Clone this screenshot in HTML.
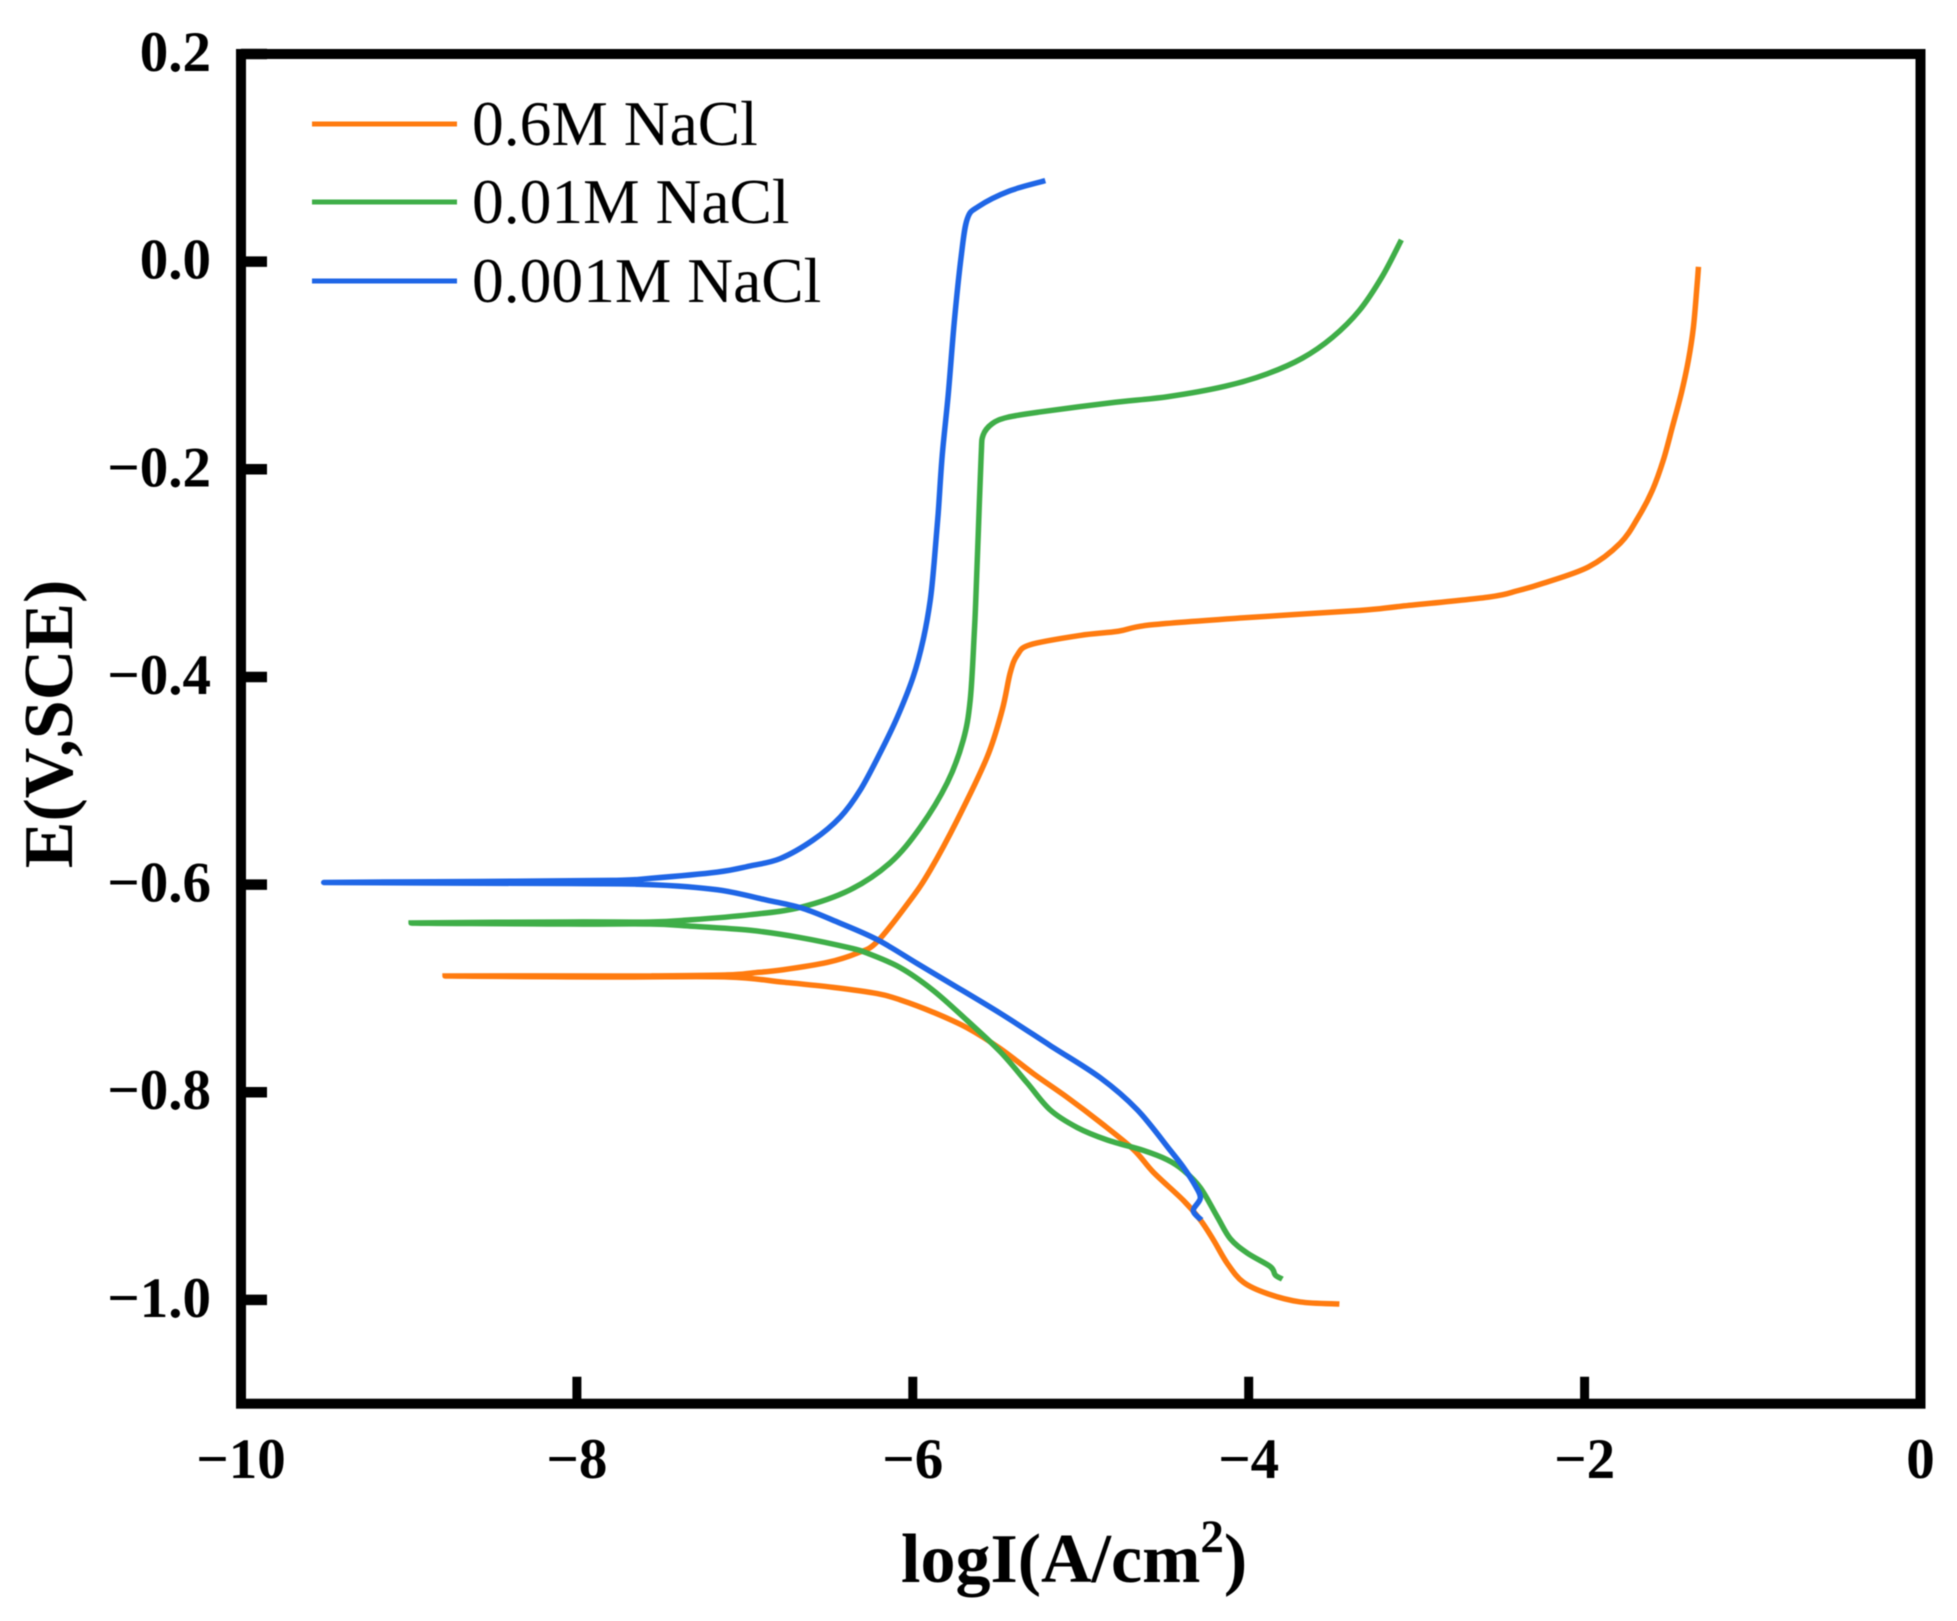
<!DOCTYPE html>
<html lang="en">
<head>
<meta charset="utf-8">
<title>Polarization curves in NaCl solutions</title>
<style>
html,body{margin:0;padding:0;background:#fff;}
svg{display:block;filter:blur(0.5px);}
text{font-family:"Liberation Serif","Times New Roman",serif;fill:#000;}
.tick-label{font-weight:bold;font-size:57px;}
.legend-label{font-size:63.5px;}
.axis-title{font-weight:bold;font-size:70px;}
</style>
</head>
<body>
<svg id="chart" xmlns="http://www.w3.org/2000/svg" width="1957" height="1621" viewBox="0 0 1957 1621">
  <rect width="1957" height="1621" fill="#fff"/>
  <g id="series"></g>
  <g id="ticks"></g>
  <rect id="frame" fill="none" stroke="#000" stroke-width="10"/>
  <g>
    <line x1="312" x2="457" y1="124" y2="124" stroke="#ff7b0f" stroke-width="5"/>
    <text class="legend-label" x="472" y="145">0.6M NaCl</text>
    <line x1="312" x2="457" y1="202" y2="202" stroke="#3fae48" stroke-width="5"/>
    <text class="legend-label" x="472" y="223">0.01M NaCl</text>
    <line x1="312" x2="457" y1="281" y2="281" stroke="#1f66e6" stroke-width="5"/>
    <text class="legend-label" x="472" y="302">0.001M NaCl</text>
  </g>
  <text class="axis-title" x="901" y="1582">logI(A/cm<tspan font-size="47" dy="-30">2</tspan><tspan dy="30">)</tspan></text>
  <text class="axis-title" text-anchor="middle" transform="translate(72 724) rotate(-90)">E(V,SCE)</text>
</svg>
<script>
const xTicks = [-10, -8, -6, -4, -2, 0];
const xTickLabels = ['\u221210', '\u22128', '\u22126', '\u22124', '\u22122', '0'];
const yTicks = [0.2, 0, -0.2, -0.4, -0.6, -0.8, -1.0];
const yTickLabels = ['0.2', '0.0', '\u22120.2', '\u22120.4', '\u22120.6', '\u22120.8', '\u22121.0'];

const orangeLogI = [-3.460,-3.693,-3.889,-4.032,-4.127,-4.211,-4.288,-4.390,-4.568,-4.687,-4.884,-5.080,-5.283,-5.479,-5.676,-5.878,-6.075,-6.212,-6.474,-6.772,-7.105,-7.790,-8.785,-7.790,-7.564,-7.105,-6.950,-6.772,-6.510,-6.331,-6.212,-6.015,-5.896,-5.736,-5.557,-5.468,-5.420,-5.378,-5.301,-5.003,-4.777,-4.592,-4.026,-3.341,-3.097,-2.567,-2.400,-2.251,-1.977,-1.787,-1.680,-1.596,-1.531,-1.477,-1.423,-1.382,-1.352,-1.331,-1.322];
const orangeE = [-1.004,-1.002,-0.994,-0.983,-0.965,-0.942,-0.923,-0.904,-0.877,-0.855,-0.829,-0.805,-0.782,-0.758,-0.738,-0.723,-0.711,-0.705,-0.699,-0.694,-0.689,-0.689,-0.688,-0.688,-0.688,-0.687,-0.685,-0.682,-0.675,-0.666,-0.655,-0.615,-0.586,-0.538,-0.477,-0.432,-0.396,-0.379,-0.369,-0.360,-0.356,-0.350,-0.343,-0.336,-0.332,-0.323,-0.317,-0.310,-0.294,-0.271,-0.246,-0.220,-0.191,-0.159,-0.126,-0.095,-0.063,-0.024,-0.005];

const greenLogI = [-3.800,-3.842,-3.871,-4.008,-4.110,-4.187,-4.288,-4.390,-4.485,-4.628,-4.842,-5.021,-5.182,-5.319,-5.479,-5.676,-5.878,-6.075,-6.272,-6.373,-6.671,-6.968,-7.326,-7.564,-8.052,-8.987,-8.052,-7.564,-7.326,-6.968,-6.671,-6.373,-6.135,-5.956,-5.795,-5.700,-5.658,-5.634,-5.625,-5.610,-5.593,-5.581,-5.527,-5.438,-5.253,-4.824,-4.479,-4.139,-3.889,-3.681,-3.502,-3.341,-3.204,-3.091];
const greenE = [-0.980,-0.976,-0.968,-0.955,-0.941,-0.920,-0.892,-0.875,-0.865,-0.856,-0.846,-0.834,-0.817,-0.791,-0.761,-0.731,-0.702,-0.680,-0.666,-0.661,-0.651,-0.644,-0.640,-0.638,-0.638,-0.637,-0.636,-0.636,-0.634,-0.629,-0.622,-0.605,-0.579,-0.545,-0.502,-0.461,-0.422,-0.358,-0.326,-0.261,-0.187,-0.167,-0.156,-0.150,-0.145,-0.136,-0.130,-0.120,-0.108,-0.093,-0.073,-0.047,-0.014,0.021];

const blueLogI = [-4.282,-4.330,-4.288,-4.318,-4.390,-4.467,-4.663,-4.884,-5.182,-5.479,-5.777,-5.974,-6.212,-6.450,-6.653,-6.867,-7.165,-7.564,-8.052,-9.500,-8.582,-7.790,-7.564,-7.165,-6.968,-6.790,-6.593,-6.432,-6.313,-6.194,-6.093,-5.998,-5.938,-5.896,-5.873,-5.849,-5.825,-5.789,-5.753,-5.712,-5.676,-5.610,-5.426,-5.211];
const blueE = [-0.923,-0.914,-0.902,-0.890,-0.872,-0.856,-0.817,-0.786,-0.755,-0.724,-0.695,-0.676,-0.653,-0.636,-0.623,-0.615,-0.605,-0.600,-0.599,-0.598,-0.597,-0.596,-0.594,-0.588,-0.582,-0.575,-0.557,-0.535,-0.509,-0.473,-0.439,-0.400,-0.364,-0.326,-0.290,-0.243,-0.187,-0.128,-0.058,0.005,0.041,0.053,0.068,0.078];

const NS = 'http://www.w3.org/2000/svg';
const plotLeft = 241, plotRight = 1920.5, plotTop = 54, plotBottom = 1403.7;
const xMin = -10, xMax = 0, yMin = -1.1, yMax = 0.2;
function xScale(v) { return plotLeft + (v - xMin) / (xMax - xMin) * (plotRight - plotLeft); }
function yScale(v) { return plotBottom - (v - yMin) / (yMax - yMin) * (plotBottom - plotTop); }

const frame = document.getElementById('frame');
frame.setAttribute('x', xScale(xMin));
frame.setAttribute('y', yScale(yMax));
frame.setAttribute('width', xScale(xMax) - xScale(xMin));
frame.setAttribute('height', yScale(yMin) - yScale(yMax));

const tickLayer = document.getElementById('ticks');
xTicks.forEach(function (t, i) {
  const px = xScale(t);
  if (t !== xMin && t !== xMax) {
    const tick = document.createElementNS(NS, 'line');
    
    
    tick.setAttribute('x1', px);
    tick.setAttribute('x2', px);
    tick.setAttribute('y1', plotBottom);
    tick.setAttribute('y2', plotBottom - 27);
    tick.setAttribute('stroke', '#000');
    tick.setAttribute('stroke-width', 9);
    tickLayer.appendChild(tick);
  }
  const label = document.createElementNS(NS, 'text');
  
  
  label.setAttribute('class', 'tick-label');
  label.setAttribute('x', px);
  label.setAttribute('y', 1478);
  label.setAttribute('text-anchor', 'middle');
  label.textContent = xTickLabels[i];
  tickLayer.appendChild(label);
});
yTicks.forEach(function (t, i) {
  const py = yScale(t);
  const tick = document.createElementNS(NS, 'line');
  
  
  tick.setAttribute('x1', plotLeft);
  tick.setAttribute('x2', plotLeft + 26);
  tick.setAttribute('y1', py);
  tick.setAttribute('y2', py);
  tick.setAttribute('stroke', '#000');
  tick.setAttribute('stroke-width', 10.5);
  tickLayer.appendChild(tick);
  const label = document.createElementNS(NS, 'text');
  
  
  label.setAttribute('class', 'tick-label');
  label.setAttribute('x', 211);
  label.setAttribute('y', py + 17);
  label.setAttribute('text-anchor', 'end');
  label.textContent = yTickLabels[i];
  tickLayer.appendChild(label);
});

function splinePath(xs, ys) {
  const p = xs.map(function (x, i) { return [xScale(x), yScale(ys[i])]; });
  let d = 'M' + p[0][0].toFixed(2) + ' ' + p[0][1].toFixed(2);
  for (let i = 0; i < p.length - 1; i++) {
    const a = p[Math.max(i - 1, 0)], b = p[i], c = p[i + 1], e = p[Math.min(i + 2, p.length - 1)];
    const c1x = b[0] + (c[0] - a[0]) / 6, c1y = b[1] + (c[1] - a[1]) / 6;
    const c2x = c[0] - (e[0] - b[0]) / 6, c2y = c[1] - (e[1] - b[1]) / 6;
    d += 'C' + c1x.toFixed(2) + ' ' + c1y.toFixed(2) + ' ' + c2x.toFixed(2) + ' ' + c2y.toFixed(2) + ' ' + c[0].toFixed(2) + ' ' + c[1].toFixed(2);
  }
  return d;
}

const seriesLayer = document.getElementById('series');

const orangePath = document.createElementNS(NS, 'path');


orangePath.setAttribute('d', splinePath(orangeLogI, orangeE));
orangePath.setAttribute('fill', 'none');
orangePath.setAttribute('stroke', '#ff7b0f');
orangePath.setAttribute('stroke-width', 5.5);
seriesLayer.appendChild(orangePath);

const greenPath = document.createElementNS(NS, 'path');


greenPath.setAttribute('d', splinePath(greenLogI, greenE));
greenPath.setAttribute('fill', 'none');
greenPath.setAttribute('stroke', '#3fae48');
greenPath.setAttribute('stroke-width', 5.5);
seriesLayer.appendChild(greenPath);

const bluePath = document.createElementNS(NS, 'path');


bluePath.setAttribute('d', splinePath(blueLogI, blueE));
bluePath.setAttribute('fill', 'none');
bluePath.setAttribute('stroke', '#1f66e6');
bluePath.setAttribute('stroke-width', 5.5);
seriesLayer.appendChild(bluePath);
</script>
</body>
</html>
